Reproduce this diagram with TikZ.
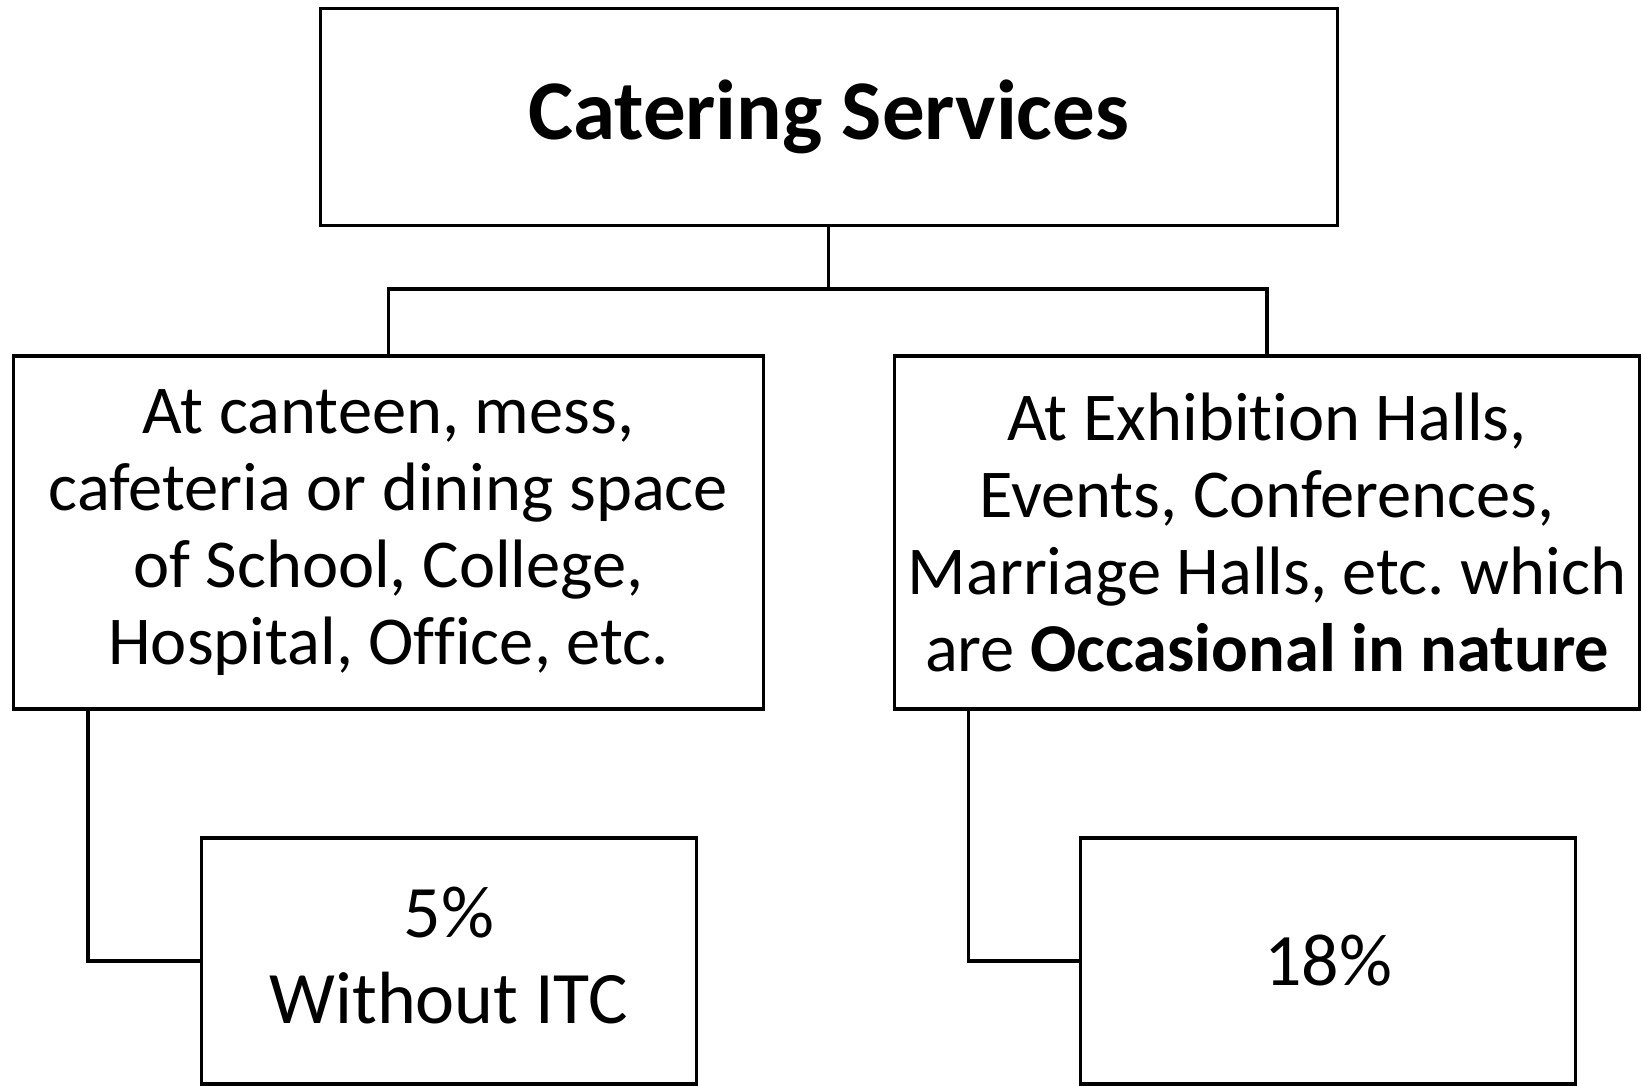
\documentclass[tikz,border=0pt]{standalone}
\usepackage{fontspec}
\setmainfont[Ligatures=NoCommon]{Carlito}
\frenchspacing
\begin{document}
\begin{tikzpicture}[x=1pt,y={(0pt,-1pt)},
  box/.style={draw=black, line width=3.2pt, fill=white, inner sep=0pt, align=center},
  link/.style={draw=black, line width=3.2pt},
  titlefont/.style={font=\fontsize{85}{102}\selectfont\bfseries},
  bodyfont/.style={font=\fontsize{68.5}{77}\selectfont},
  ratefont/.style={font=\fontsize{74}{86}\selectfont}]
\useasboundingbox (0,0) rectangle (1642,1086);

\node[box, titlefont, minimum width=1017pt, minimum height=217pt] (top) at (828.8,116.8)
  {Catering Services};

\node[box, bodyfont, minimum width=750pt, minimum height=353pt] (left) at (388.5,532.5)
  {At canteen, mess,\\ cafeteria or dining space\\ of School, College,\\ Hospital, Office, etc.};

\node[box, bodyfont, minimum width=745pt, minimum height=353pt] (right) at (1267,532.5)
  {At Exhibition Halls,\\ Events, Conferences,\\ Marriage Halls, etc. which\\ are \textbf{Occasional in nature}};

\node[box, minimum width=495pt, minimum height=246pt] (low) at (448.7,961) {};
\node[ratefont, align=center, inner sep=0pt] (lowtext) at ([yshift=5pt]low.center)
  {5\%\\ Without ITC};

\node[box, ratefont, minimum width=495pt, minimum height=246pt] (high) at (1328.3,961)
  {18\%};

\coordinate (hub) at (828.8,289);
\draw[link] (top.south) -- (hub);
\draw[link] (left.north) |- (hub) -| (right.north);
\draw[link] ([xshift=76pt]left.south west) |- (low.west);
\draw[link] ([xshift=75.4pt]right.south west) |- (high.west);
\end{tikzpicture}
\end{document}
